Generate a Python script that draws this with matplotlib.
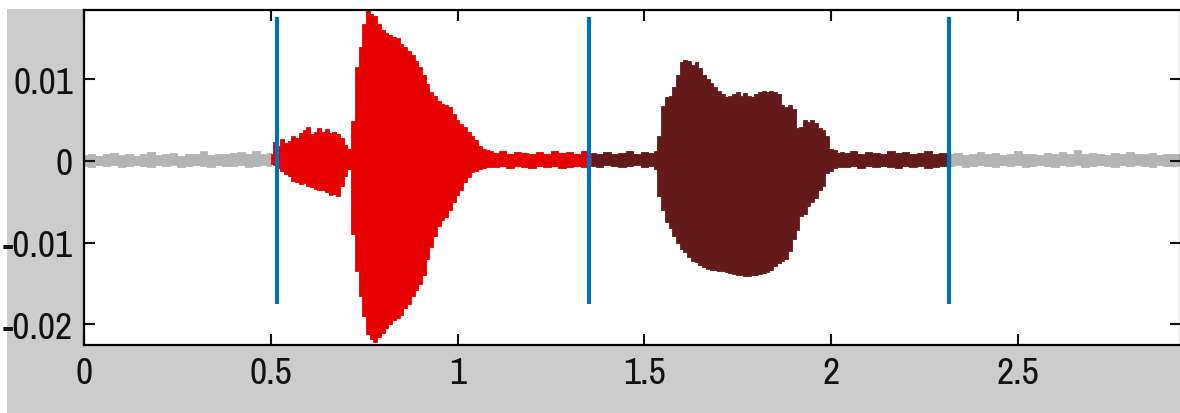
import numpy as np
import matplotlib
matplotlib.use("Agg")
import matplotlib.pyplot as plt
from matplotlib.patches import Rectangle

# envelope of the waveform (upper / lower)
gray_a_t = np.arange(0, 51, 2) / 100
gray_a_up = [0.0007, 0.0009, 0.0006, 0.0008, 0.0010, 0.0007, 0.0008, 0.0006, 0.0009, 0.0011,
             0.0007, 0.0008, 0.0010, 0.0006, 0.0009, 0.0008, 0.0012, 0.0007, 0.0009, 0.0008,
             0.0010, 0.0011, 0.0008, 0.0012, 0.0009, 0.0010]
gray_a_lo = [-0.0006, -0.0007, -0.0005, -0.0006, -0.0005, -0.0007, -0.0006, -0.0005, -0.0006, -0.0007,
             -0.0005, -0.0006, -0.0005, -0.0007, -0.0006, -0.0005, -0.0006, -0.0007, -0.0005, -0.0006,
             -0.0006, -0.0005, -0.0007, -0.0006, -0.0005, -0.0006]

red_t = np.concatenate([np.arange(50, 110) / 100, np.arange(110, 137, 2) / 100])
red_up = [0.0008, 0.0023, 0.0018, 0.0027, 0.0022, 0.0025, 0.0030, 0.0028, 0.0034, 0.0038,
          0.0042, 0.0033, 0.0036, 0.0040, 0.0036, 0.0039, 0.0034, 0.0036, 0.0033, 0.0028,
          0.0020, 0.0015, 0.0049, 0.0115, 0.0140, 0.0168, 0.0186, 0.0180, 0.0177, 0.0168,
          0.0160, 0.0157, 0.0154, 0.0152, 0.0150, 0.0143, 0.0140, 0.0135, 0.0130, 0.0122,
          0.0115, 0.0105, 0.0094, 0.0085, 0.0080, 0.0073, 0.0070, 0.0068, 0.0066, 0.0058,
          0.0050, 0.0045, 0.0042, 0.0036, 0.0030, 0.0026, 0.0018, 0.0015, 0.0013, 0.0012,
          0.0010, 0.0012, 0.0009, 0.0011, 0.0010, 0.0008, 0.0011, 0.0009, 0.0012, 0.0010,
          0.0011, 0.0009, 0.0012, 0.0010]
red_lo = [-0.0004, -0.0005, -0.0008, -0.0012, -0.0016, -0.0018, -0.0024, -0.0026, -0.0028, -0.0027,
          -0.0030, -0.0032, -0.0034, -0.0036, -0.0035, -0.0038, -0.0042, -0.0040, -0.0043, -0.0030,
          -0.0018, -0.0010, -0.0089, -0.0135, -0.0165, -0.0190, -0.0212, -0.0218, -0.0222, -0.0215,
          -0.0210, -0.0205, -0.0200, -0.0195, -0.0192, -0.0188, -0.0180, -0.0175, -0.0165, -0.0158,
          -0.0150, -0.0140, -0.0120, -0.0105, -0.0092, -0.0080, -0.0072, -0.0068, -0.0060, -0.0050,
          -0.0042, -0.0035, -0.0026, -0.0020, -0.0014, -0.0012, -0.0010, -0.0008, -0.0007, -0.0007,
          -0.0007, -0.0006, -0.0008, -0.0006, -0.0007, -0.0008, -0.0006, -0.0007, -0.0006, -0.0008,
          -0.0007, -0.0006, -0.0007, -0.0006]

dark_t = np.concatenate([np.arange(136, 152, 2) / 100, np.arange(152, 204) / 100,
                         np.arange(204, 233, 2) / 100])
dark_up = [0.0010, 0.0008, 0.0011, 0.0009, 0.0010, 0.0012, 0.0009, 0.0011,
           0.0010, 0.0012, 0.0031, 0.0067, 0.0078, 0.0080, 0.0090, 0.0105, 0.0121, 0.0124,
           0.0122, 0.0118, 0.0121, 0.0114, 0.0105, 0.0100, 0.0095, 0.0090, 0.0086, 0.0082,
           0.0078, 0.0080, 0.0082, 0.0084, 0.0080, 0.0083, 0.0080, 0.0078, 0.0082, 0.0084,
           0.0086, 0.0084, 0.0086, 0.0084, 0.0082, 0.0068, 0.0066, 0.0068, 0.0064, 0.0040,
           0.0042, 0.0050, 0.0048, 0.0050, 0.0046, 0.0040, 0.0038, 0.0030, 0.0015, 0.0013,
           0.0010, 0.0011,
           0.0010, 0.0012, 0.0009, 0.0011, 0.0010, 0.0009, 0.0012, 0.0010, 0.0011, 0.0009,
           0.0010, 0.0012, 0.0009, 0.0010, 0.0008]
dark_lo = [-0.0006, -0.0007, -0.0005, -0.0006, -0.0007, -0.0006, -0.0005, -0.0007,
           -0.0006, -0.0010, -0.0043, -0.0060, -0.0075, -0.0082, -0.0092, -0.0100, -0.0108, -0.0111,
           -0.0118, -0.0122, -0.0124, -0.0127, -0.0130, -0.0132, -0.0133, -0.0134, -0.0135, -0.0135,
           -0.0136, -0.0137, -0.0138, -0.0139, -0.0140, -0.0141, -0.0141, -0.0140, -0.0140, -0.0138,
           -0.0137, -0.0136, -0.0134, -0.0128, -0.0125, -0.0122, -0.0120, -0.0110, -0.0095, -0.0085,
           -0.0067, -0.0065, -0.0055, -0.0050, -0.0045, -0.0035, -0.0030, -0.0015, -0.0012, -0.0008,
           -0.0007, -0.0007,
           -0.0007, -0.0006, -0.0008, -0.0006, -0.0007, -0.0006, -0.0007, -0.0008, -0.0006, -0.0007,
           -0.0006, -0.0008, -0.0007, -0.0006, -0.0006]

gray_b_t = np.arange(232, 296, 2) / 100
gray_b_up = [0.0008, 0.0010, 0.0007, 0.0009, 0.0011, 0.0008, 0.0010, 0.0007, 0.0009, 0.0012,
             0.0008, 0.0009, 0.0007, 0.0010, 0.0008, 0.0011, 0.0009, 0.0013, 0.0008, 0.0010,
             0.0009, 0.0007, 0.0010, 0.0008, 0.0011, 0.0009, 0.0008, 0.0010, 0.0007, 0.0009,
             0.0008, 0.0009]
gray_b_lo = [-0.0006, -0.0005, -0.0007, -0.0006, -0.0005, -0.0006, -0.0007, -0.0005, -0.0006, -0.0005,
             -0.0007, -0.0006, -0.0005, -0.0006, -0.0007, -0.0005, -0.0006, -0.0005, -0.0007, -0.0006,
             -0.0005, -0.0006, -0.0007, -0.0005, -0.0006, -0.0005, -0.0006, -0.0007, -0.0005, -0.0006,
             -0.0006, -0.0005]

boundaries = [0.517, 1.353, 2.317]
xticks = [0, 0.5, 1, 1.5, 2, 2.5]
xticklabels = ['0', '0.5', '1', '1.5', '2', '2.5']
yticks = [0.01, 0, -0.01, -0.02]
yticklabels = ['0.01', '0', '-0.01', '-0.02']

plt.rcParams['font.family'] = ['Archivo Narrow', 'Roboto Condensed', 'DejaVu Sans']

fig = plt.figure(figsize=(11.8, 4.14), dpi=100, facecolor='white')
fig.patches.append(Rectangle((7 / 1180, 0), 1, 404 / 414, transform=fig.transFigure,
                             facecolor='#cccccc', edgecolor='none', zorder=-1))
ax = fig.add_axes([84 / 1180, 68 / 414, 1097 / 1180, 335 / 414])
ax.set_facecolor('white')

for t, up, lo, c in [(gray_a_t, gray_a_up, gray_a_lo, '#b4b4b4'),
                     (red_t, red_up, red_lo, '#e60000'),
                     (dark_t, dark_up, dark_lo, '#641a1a'),
                     (gray_b_t, gray_b_up, gray_b_lo, '#b4b4b4')]:
    ax.fill_between(t, lo, up, step='mid', color=c, lw=0.6)

ax.vlines(boundaries, -0.0175, 0.0176, color='#0072bd', lw=3)

ax.set_xlim(0, 2.937)
ax.set_ylim(-0.02252, 0.01848)
ax.set_xticks(xticks)
ax.set_xticklabels(xticklabels)
ax.set_yticks(yticks)
ax.set_yticklabels(yticklabels)
ax.tick_params(direction='in', length=8, width=1.5, top=True, right=True,
               labelsize=27, colors='#111111', pad=8)
for s in ax.spines.values():
    s.set_linewidth(1.6)

fig.savefig('out.png', dpi=100, facecolor='white')
